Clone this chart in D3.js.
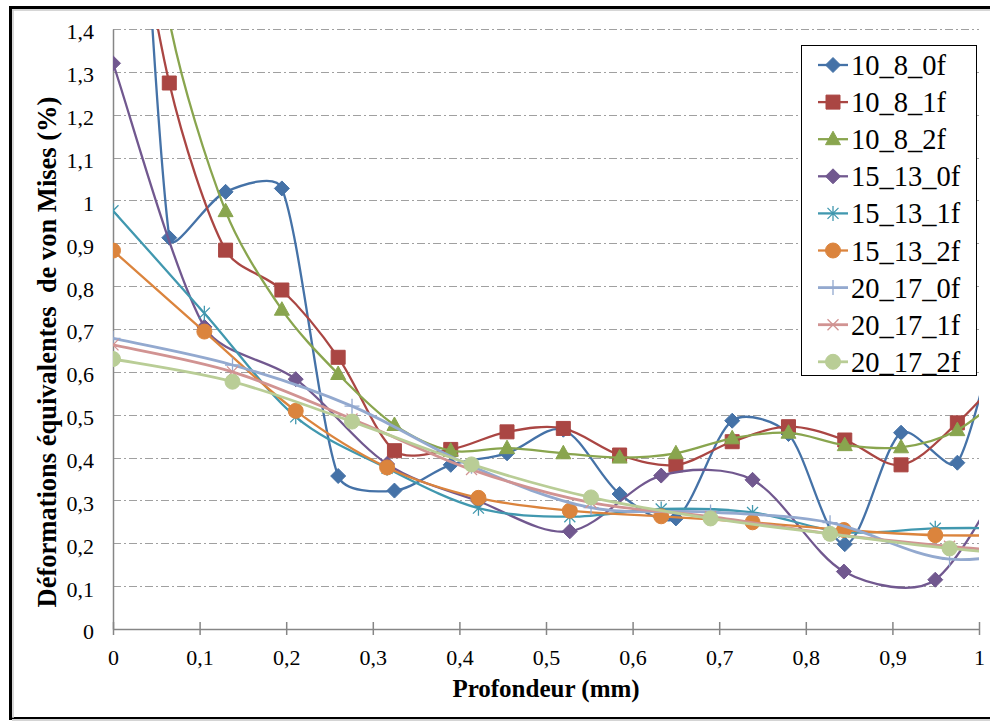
<!DOCTYPE html>
<html>
<head>
<meta charset="utf-8">
<script src="https://cdn.jsdelivr.net/npm/d3@7"></script>
<style>
  body { margin: 0; background: #fff; }
  text { font-family: "Liberation Serif", "Times New Roman", serif; }
</style>
</head>
<body>
<div id="chart"></div>
<script>
// depth positions (mm) of each family of series
var depth10 = [0, 0.065, 0.13, 0.195, 0.26, 0.325, 0.39, 0.455, 0.52, 0.585, 0.65, 0.715, 0.78, 0.845, 0.91, 0.975, 1.04];
var depth15 = [0, 0.1055, 0.211, 0.3165, 0.422, 0.5275, 0.633, 0.7385, 0.844, 0.9495, 1.055];
var depth20 = [0, 0.138, 0.276, 0.414, 0.552, 0.69, 0.828, 0.966, 1.104];

// von Mises strain values (%)
var s10_8_0f = [3.1, 0.913, 1.02, 1.028, 0.357, 0.323, 0.383, 0.41, 0.465, 0.315, 0.258, 0.486, 0.455, 0.198, 0.458, 0.388, 0.88];
var s10_8_1f = [2.0, 1.274, 0.884, 0.791, 0.634, 0.416, 0.419, 0.46, 0.468, 0.406, 0.383, 0.437, 0.472, 0.441, 0.383, 0.481, 0.62];
var s10_8_2f = [2.3, 1.42, 0.975, 0.745, 0.595, 0.476, 0.416, 0.422, 0.41, 0.40, 0.41, 0.445, 0.458, 0.429, 0.424, 0.464, 0.565];
var s15_13_0f = [1.32, 0.705, 0.583, 0.385, 0.298, 0.228, 0.358, 0.348, 0.134, 0.115, 0.45];
var s15_13_1f = [0.976, 0.737, 0.495, 0.375, 0.282, 0.262, 0.28, 0.272, 0.226, 0.235, 0.235];
var s15_13_2f = [0.883, 0.694, 0.509, 0.377, 0.306, 0.276, 0.263, 0.249, 0.231, 0.219, 0.219];
var s20_17_0f = [0.678, 0.616, 0.52, 0.38, 0.283, 0.273, 0.248, 0.163, 0.2];
var s20_17_1f = [0.663, 0.60, 0.49, 0.372, 0.295, 0.262, 0.222, 0.193, 0.17];
var s20_17_2f = [0.630, 0.577, 0.484, 0.384, 0.307, 0.258, 0.222, 0.188, 0.165];

var seriesNames = ["10_8_0f", "10_8_1f", "10_8_2f", "15_13_0f", "15_13_1f", "15_13_2f", "20_17_0f", "20_17_1f", "20_17_2f"];
var seriesDepths = [depth10, depth10, depth10, depth15, depth15, depth15, depth20, depth20, depth20];
var seriesValues = [s10_8_0f, s10_8_1f, s10_8_2f, s15_13_0f, s15_13_1f, s15_13_2f, s20_17_0f, s20_17_1f, s20_17_2f];

var yTicks = [0, 0.1, 0.2, 0.3, 0.4, 0.5, 0.6, 0.7, 0.8, 0.9, 1, 1.1, 1.2, 1.3, 1.4];
var yTickLabels = ["0", "0,1", "0,2", "0,3", "0,4", "0,5", "0,6", "0,7", "0,8", "0,9", "1", "1,1", "1,2", "1,3", "1,4"];
var xTicks = [0, 0.1, 0.2, 0.3, 0.4, 0.5, 0.6, 0.7, 0.8, 0.9, 1];
var xTickLabels = ["0", "0,1", "0,2", "0,3", "0,4", "0,5", "0,6", "0,7", "0,8", "0,9", "1"];

var colors = ["#4572A7", "#AA4643", "#89A54E", "#71588F", "#4198AF", "#DB843D", "#93A9CF", "#D19392", "#B9CD96"];
var shapes = ["diamond", "square", "triangle", "diamond", "star", "circle", "plus", "cross", "circle"];

var svgWidth = 990;
var svgHeight = 721;

var margin = { top: 29, right: 11, bottom: 92, left: 113 };
var width = svgWidth - margin.left - margin.right;
var height = svgHeight - margin.top - margin.bottom;

var svg = d3.select("#chart")
  .append("svg")
  .attr("width", svgWidth)
  .attr("height", svgHeight);

// outer frame
svg.append("rect")
  .attr("x", 10.5).attr("y", 7.5)
  .attr("width", 1000).attr("height", 711)
  .attr("fill", "none")
  .attr("stroke", "#000")
  .attr("stroke-width", 3);
svg.append("line")
  .attr("x1", 12).attr("x2", 990).attr("y1", 10).attr("y2", 10)
  .attr("stroke", "#c8c8c8").attr("stroke-width", 1.5);
svg.append("line")
  .attr("x1", 13).attr("x2", 13).attr("y1", 10).attr("y2", 718)
  .attr("stroke", "#c8c8c8").attr("stroke-width", 1.5);
svg.append("line")
  .attr("x1", 12).attr("x2", 990).attr("y1", 720).attr("y2", 720)
  .attr("stroke", "#d4d4d4").attr("stroke-width", 2);

var chart = svg.append("g")
  .attr("transform", `translate(${margin.left}, ${margin.top})`);

var x = d3.scaleLinear().domain([0, 1]).range([0, width]);
var y = d3.scaleLinear().domain([0, 1.4]).range([height, 0]);

// gridlines (dash-dot)
chart.append("g")
  .selectAll("line")
  .data(yTicks.slice(1))
  .enter()
  .append("line")
  .attr("x1", 0).attr("x2", width)
  .attr("y1", d => Math.round(y(d)) + 0.5)
  .attr("y2", d => Math.round(y(d)) + 0.5)
  .attr("stroke", "#a0a0a0")
  .attr("stroke-width", 1.2)
  .attr("stroke-dasharray", "8,3,2,3");

// x axis with crossing ticks
var bottomAxis = d3.axisBottom(x)
  .tickValues(xTicks)
  .tickSizeInner(6)
  .tickSizeOuter(0)
  .tickFormat((d, i) => xTickLabels[i]);

var xAxis = chart.append("g")
  .attr("transform", `translate(0, ${height})`)
  .call(bottomAxis);
xAxis.select(".domain").attr("stroke", "#868686").attr("stroke-width", 1.5);
xAxis.selectAll(".tick line")
  .attr("y1", -7).attr("y2", 6)
  .attr("stroke", "#868686").attr("stroke-width", 1.5);
xAxis.selectAll(".tick text")
  .attr("y", 20).attr("dy", "0.71em")
  .attr("font-size", "22px")
  .attr("font-family", "Liberation Serif")
  .attr("fill", "#000");

// y axis, no tick marks
var leftAxis = d3.axisLeft(y)
  .tickValues(yTicks)
  .tickSize(0)
  .tickPadding(19)
  .tickFormat((d, i) => yTickLabels[i]);

var yAxis = chart.append("g").call(leftAxis);
yAxis.select(".domain").attr("stroke", "#868686").attr("stroke-width", 1.5);
yAxis.selectAll(".tick text")
  .attr("dy", "0.45em")
  .attr("font-size", "22px")
  .attr("font-family", "Liberation Serif")
  .attr("fill", "#000");

// clip to plot area
chart.append("clipPath")
  .attr("id", "plotclip")
  .append("rect")
  .attr("x", 0).attr("y", 0)
  .attr("width", width).attr("height", height);

function markerPath(shape) {
  if (shape == "diamond") return "M0,-7.5L7.5,0L0,7.5L-7.5,0Z";
  if (shape == "square") return "M-7,-7H7V7H-7Z";
  if (shape == "triangle") return "M0,-8L7.5,5.5L-7.5,5.5Z";
  if (shape == "circle") return "M7.5,0A7.5,7.5 0 1,1 -7.5,0A7.5,7.5 0 1,1 7.5,0Z";
  if (shape == "star") return "M-5.5,-5.5L5.5,5.5M-5.5,5.5L5.5,-5.5M0,-7.5V7.5";
  if (shape == "plus") return "M-7.5,0H7.5M0,-7.5V7.5";
  if (shape == "cross") return "M-5.5,-5.5L5.5,5.5M-5.5,5.5L5.5,-5.5";
}
function isOpen(shape) {
  return shape == "star" || shape == "plus" || shape == "cross";
}

// Excel-like smoothed line: catmull-rom tangents (1/6), but the control arm
// on each side is shortened when that segment is much shorter than the other
function smoothPath(pts) {
  var p = d3.path();
  var n = pts.length;
  function dist(a, b) { return Math.hypot(b[0] - a[0], b[1] - a[1]); }
  function tangent(i) {
    var a = pts[Math.max(i - 1, 0)], b = pts[Math.min(i + 1, n - 1)];
    return [(b[0] - a[0]) / 6, (b[1] - a[1]) / 6];
  }
  function scales(i) {
    var dp = i > 0 ? dist(pts[i - 1], pts[i]) : 0;
    var dn = i < n - 1 ? dist(pts[i], pts[i + 1]) : 0;
    if (dp == 0 || dn == 0) return [1, 1];
    return [Math.min(1, 2 * dp / (dp + dn)), Math.min(1, 2 * dn / (dp + dn))];
  }
  p.moveTo(pts[0][0], pts[0][1]);
  for (var i = 0; i < n - 1; i++) {
    var t1 = tangent(i), t2 = tangent(i + 1);
    var s1 = scales(i)[1], s2 = scales(i + 1)[0];
    p.bezierCurveTo(
      pts[i][0] + t1[0] * s1, pts[i][1] + t1[1] * s1,
      pts[i + 1][0] - t2[0] * s2, pts[i + 1][1] - t2[1] * s2,
      pts[i + 1][0], pts[i + 1][1]);
  }
  return p.toString();
}

var plot = chart.append("g").attr("clip-path", "url(#plotclip)");

seriesNames.forEach(function(name, i) {
  var pts = seriesDepths[i].map((d, j) => [d, seriesValues[i][j]]);
  var g = plot.append("g").attr("class", "series-" + name);

  g.append("path")
    .attr("d", smoothPath(pts.map(p => [x(p[0]), y(p[1])])))
    .attr("fill", "none")
    .attr("stroke", colors[i])
    .attr("stroke-width", i >= 6 ? 2.8 : 2.3);

  g.selectAll("path.mk")
    .data(pts.filter(p => p[0] <= 1.001 && p[1] <= 1.4))
    .enter()
    .append("path")
    .attr("class", "mk")
    .attr("transform", d => `translate(${x(d[0])}, ${y(d[1])})`)
    .attr("d", markerPath(shapes[i]))
    .attr("fill", isOpen(shapes[i]) ? "none" : colors[i])
    .attr("stroke", colors[i])
    .attr("stroke-width", isOpen(shapes[i]) ? 1.3 : 1);
});

// legend
var legend = svg.append("g");
legend.append("rect")
  .attr("x", 801.5).attr("y", 45.5)
  .attr("width", 175).attr("height", 330)
  .attr("fill", "#fff")
  .attr("stroke", "#000")
  .attr("stroke-width", 1);

seriesNames.forEach(function(name, i) {
  var ly = 65 + i * 37.1;
  var item = legend.append("g").attr("transform", `translate(0, ${ly})`);
  item.append("line")
    .attr("x1", 818).attr("x2", 848)
    .attr("y1", 0).attr("y2", 0)
    .attr("stroke", colors[i])
    .attr("stroke-width", i >= 6 ? 2.8 : 2.3);
  item.append("path")
    .attr("transform", "translate(833, 0)")
    .attr("d", markerPath(shapes[i]))
    .attr("fill", isOpen(shapes[i]) ? "none" : colors[i])
    .attr("stroke", colors[i])
    .attr("stroke-width", isOpen(shapes[i]) ? 1.3 : 1);
  item.append("text")
    .attr("x", 851)
    .attr("y", 10)
    .attr("font-size", "28.5px")
    .text(name);
});

// axis titles
svg.append("text")
  .attr("transform", "translate(56, 352) rotate(-90)")
  .attr("text-anchor", "middle")
  .attr("font-size", "26.5px")
  .attr("font-weight", "bold")
  .style("white-space", "pre")
  .text("Déformations équivalentes  de von Mises (%)");

svg.append("text")
  .attr("x", margin.left + width / 2)
  .attr("y", 697)
  .attr("text-anchor", "middle")
  .attr("font-size", "25px")
  .attr("font-weight", "bold")
  .text("Profondeur (mm)");
</script>
</body>
</html>
